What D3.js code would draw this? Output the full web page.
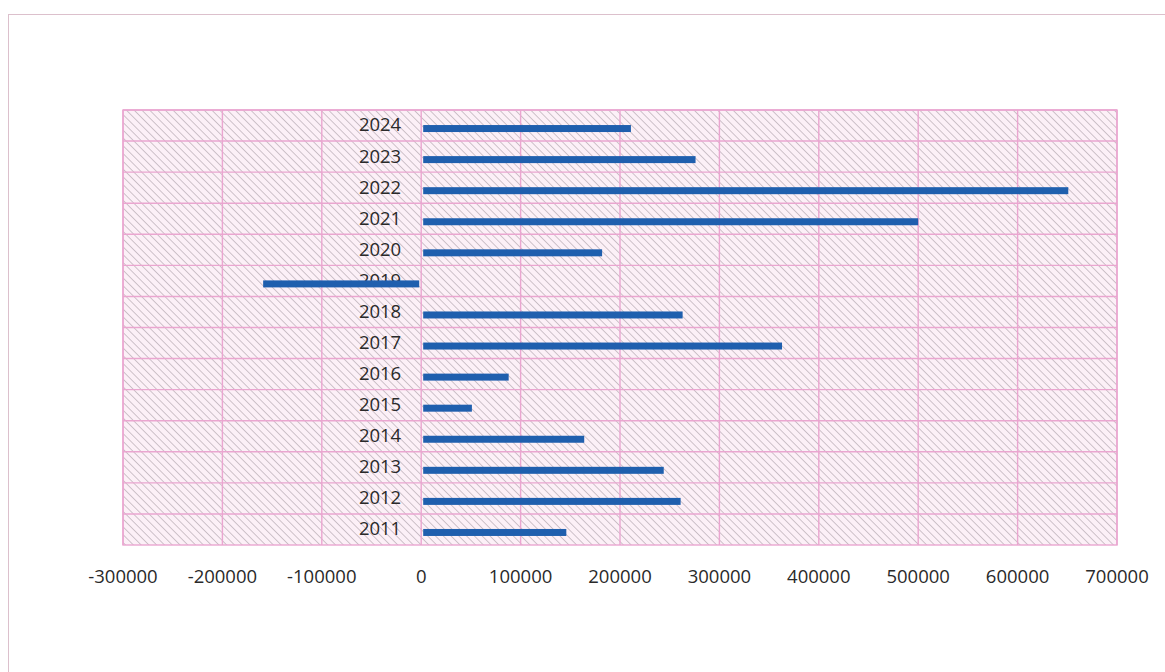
<!DOCTYPE html>
<html>
<head>
<meta charset="utf-8">
<script src="https://cdn.jsdelivr.net/npm/d3@7"></script>
<style>
  body { margin: 0; background: #fff; }
  svg { display: block; }
</style>
</head>
<body>
<div id="chart"></div>
<script>
// yıllar ve değerler
const years = ["2011", "2012", "2013", "2014", "2015", "2016", "2017", "2018", "2019", "2020", "2021", "2022", "2023", "2024"];
const values = [146000, 261000, 244000, 164000, 51000, 88000, 363000, 263000, -159000, 182000, 500000, 651000, 276000, 211000];
const xTicks = [-300000, -200000, -100000, 0, 100000, 200000, 300000, 400000, 500000, 600000, 700000];

const width = 1165, height = 672;
const plotLeft = 123, plotRight = 1117, plotTop = 110, plotBottom = 545;

const svg = d3.select("#chart")
    .append("svg")
    .attr("width", width)
    .attr("height", height);

// tarama deseni
const defs = svg.append("defs");
const pat = defs.append("pattern")
    .attr("id", "hatch")
    .attr("patternUnits", "userSpaceOnUse")
    .attr("width", 5.5)
    .attr("height", 5.5)
    .attr("patternTransform", "rotate(-45)");
pat.append("rect")
    .attr("width", 5.5)
    .attr("height", 5.5)
    .attr("fill", "#fcf0f7");
pat.append("line")
    .attr("x1", 0).attr("y1", 0)
    .attr("x2", 0).attr("y2", 5.5)
    .attr("stroke", "#b4a8b0")
    .attr("stroke-width", 1.3);

// sayfa çerçevesi
svg.append("rect")
    .attr("x", 8.5)
    .attr("y", 14.5)
    .attr("width", 1200)
    .attr("height", 700)
    .attr("fill", "none")
    .attr("stroke", "#dcc0cc")
    .attr("stroke-width", 1);

const x = d3.scaleLinear()
    .domain([-300000, 700000])
    .range([plotLeft, plotRight]);

// yukarıdan aşağı: 2024 ... 2011
const y = d3.scaleBand()
    .domain(years.slice().reverse())
    .range([plotTop, plotBottom]);

// arka plan
svg.append("rect")
    .attr("x", plotLeft)
    .attr("y", plotTop)
    .attr("width", plotRight - plotLeft)
    .attr("height", plotBottom - plotTop)
    .attr("fill", "url(#hatch)");

// dikey ızgara
svg.append("g")
    .selectAll("line")
    .data(xTicks)
    .join("line")
    .attr("x1", d => x(d))
    .attr("x2", d => x(d))
    .attr("y1", plotTop)
    .attr("y2", plotBottom)
    .attr("stroke", "#eaa6d0")
    .attr("stroke-width", 1.4);

// yatay ızgara
svg.append("g")
    .selectAll("line")
    .data(years)
    .join("line")
    .attr("x1", plotLeft)
    .attr("x2", plotRight)
    .attr("y1", d => y(d))
    .attr("y2", d => y(d))
    .attr("stroke", "#eaa6d0")
    .attr("stroke-width", 1.4);

svg.append("rect")
    .attr("x", plotLeft)
    .attr("y", plotTop)
    .attr("width", plotRight - plotLeft)
    .attr("height", plotBottom - plotTop)
    .attr("fill", "none")
    .attr("stroke", "#eaa6d0")
    .attr("stroke-width", 1.4);

// yıl etiketleri
svg.append("g")
    .selectAll("text")
    .data(years)
    .join("text")
    .attr("x", x(0) - 20)
    .attr("y", d => y(d) + y.bandwidth() / 2 + 1)
    .attr("text-anchor", "end")
    .attr("dominant-baseline", "middle")
    .attr("font-family", "Open Sans, sans-serif")
    .attr("font-size", 18.5)
    .attr("fill", "#2a2a2a")
    .text(d => d);

// çubuklar
const barH = 7;
svg.append("g")
    .selectAll("rect")
    .data(years.map((yr, i) => ({ yr, v: values[i] })))
    .join("rect")
    .attr("x", d => d.v >= 0 ? x(0) + 2 : x(d.v))
    .attr("y", d => y(d.yr) + y.bandwidth() / 2 - barH / 2 + 3)
    .attr("width", d => Math.abs(x(d.v) - x(0)) - 2)
    .attr("height", barH)
    .attr("fill", "#1f5fae");

// x ekseni etiketleri
svg.append("g")
    .selectAll("text")
    .data(xTicks)
    .join("text")
    .attr("x", d => x(d))
    .attr("y", 578)
    .attr("text-anchor", "middle")
    .attr("dominant-baseline", "middle")
    .attr("font-family", "Open Sans, sans-serif")
    .attr("font-size", 18.5)
    .attr("fill", "#2a2a2a")
    .text(d => d);
</script>
</body>
</html>
